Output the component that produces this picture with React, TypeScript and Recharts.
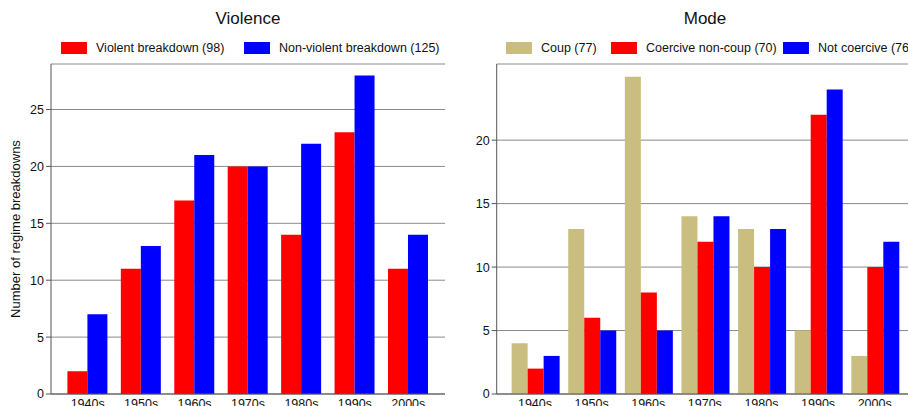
import React from "react";
import { BarChart, Bar, XAxis, YAxis, CartesianGrid } from "recharts";

const decades = ["1940s", "1950s", "1960s", "1970s", "1980s", "1990s", "2000s"];
const violent = [2, 11, 17, 20, 14, 23, 11];
const nonViolent = [7, 13, 21, 20, 22, 28, 14];
const coup = [4, 13, 25, 14, 13, 5, 3];
const coerciveNonCoup = [2, 6, 8, 12, 10, 22, 10];
const notCoercive = [3, 5, 5, 14, 13, 24, 12];
const leftTicks = [0, 5, 10, 15, 20, 25];
const rightTicks = [0, 5, 10, 15, 20];

const violenceSeries = [
  { key: "violent", name: "Violent breakdown (98)", color: "#ff0000", values: violent },
  { key: "nonViolent", name: "Non-violent breakdown (125)", color: "#0000ff", values: nonViolent },
];
const modeSeries = [
  { key: "coup", name: "Coup (77)", color: "#c9be80", values: coup },
  { key: "coercive", name: "Coercive non-coup (70)", color: "#ff0000", values: coerciveNonCoup },
  { key: "notCoercive", name: "Not coercive (76)", color: "#0000ff", values: notCoercive },
];
const violenceLegendX = [61, 244];
const modeLegendX = [506, 611, 783];

const buildRows = (series: typeof violenceSeries) =>
  decades.map((d, i) => {
    const row: any = { decade: d };
    series.forEach((s) => (row[s.key] = s.values[i]));
    return row;
  });

const violenceData = buildRows(violenceSeries);
const modeData = buildRows(modeSeries);

const FONT = "'Liberation Sans', Arial, Helvetica, sans-serif";
const GRID = "#8a8a8a";
const FRAME = "#555";

function LegendRow({ series, xs }: { series: typeof violenceSeries; xs: number[] }) {
  return (
    <>
      {series.map((s, i) => (
        <div
          key={s.key}
          style={{
            position: "absolute",
            left: xs[i],
            top: 41,
            display: "flex",
            alignItems: "center",
            whiteSpace: "nowrap",
            fontFamily: FONT,
            fontSize: 12.5,
            color: "#111",
            width: 300,
          }}
        >
          <div style={{ width: 26, height: 12, background: s.color, marginRight: 9, flexShrink: 0 }} />
          <span style={{ whiteSpace: "nowrap" }}>{s.name}</span>
        </div>
      ))}
    </>
  );
}

function Title({ text, cx }: { text: string; cx: number }) {
  return (
    <div
      style={{
        position: "absolute",
        left: cx - 100,
        width: 200,
        top: 9,
        textAlign: "center",
        fontFamily: FONT,
        fontSize: 17,
        color: "#111",
      }}
    >
      {text}
    </div>
  );
}

const tickStyle = { fontSize: 12.5, fill: "#111", fontFamily: FONT };

export default function App() {
  return (
    <div style={{ position: "relative", width: 908, height: 406, overflow: "hidden", background: "#fff" }}>
      <style>{"body{margin:0;overflow:hidden;}"}</style>
      <Title text="Violence" cx={248} />
      <Title text="Mode" cx={705} />
      <LegendRow series={violenceSeries} xs={violenceLegendX} />
      <LegendRow series={modeSeries} xs={modeLegendX} />

      <div style={{ position: "absolute", left: 0, top: 0 }}>
        <BarChart
          width={460}
          height={420}
          data={violenceData}
          margin={{ top: 64, right: 15, left: 0, bottom: 6 }}
          barCategoryGap="12%"
          barGap={0}
        >
          <CartesianGrid vertical={false} stroke={GRID} />
          <XAxis
            dataKey="decade"
            padding={{ left: 10, right: 10 }}
            tickSize={0}
            tickMargin={5}
            height={20}
            axisLine={{ stroke: FRAME }}
            tick={tickStyle}
            interval={0}
          />
          <XAxis xAxisId="top" orientation="top" height={0} tick={false} tickLine={false} axisLine={{ stroke: FRAME }} />
          <YAxis
            width={51}
            domain={[0, 29]}
            ticks={leftTicks}
            tickSize={5}
            tickMargin={2}
            axisLine={{ stroke: FRAME }}
            tickLine={{ stroke: FRAME }}
            tick={tickStyle}
            label={{
              value: "Number of regime breakdowns",
              angle: -90,
              position: "insideLeft",
              dx: 10,
              style: { textAnchor: "middle", fontSize: 13, fill: "#111", fontFamily: FONT },
            }}
          />
          <YAxis yAxisId="right" orientation="right" width={0} tick={false} tickLine={false} axisLine={{ stroke: FRAME }} />
          {violenceSeries.map((s) => (
            <Bar key={s.key} dataKey={s.key} name={s.name} fill={s.color} isAnimationActive={false} />
          ))}
        </BarChart>
      </div>

      <div style={{ position: "absolute", left: 450, top: 0 }}>
        <BarChart
          width={465}
          height={420}
          data={modeData}
          margin={{ top: 64, right: 2, left: 0, bottom: 6 }}
          barCategoryGap="8.7%"
          barGap={0}
        >
          <CartesianGrid vertical={false} stroke={GRID} />
          <XAxis
            dataKey="decade"
            padding={{ left: 10, right: 10 }}
            tickSize={0}
            tickMargin={5}
            height={20}
            axisLine={{ stroke: FRAME }}
            tick={tickStyle}
            interval={0}
          />
          <XAxis xAxisId="top" orientation="top" height={0} tick={false} tickLine={false} axisLine={{ stroke: FRAME }} />
          <YAxis
            width={46.7}
            domain={[0, 26]}
            ticks={rightTicks}
            tickSize={5}
            tickMargin={2}
            axisLine={{ stroke: FRAME }}
            tickLine={{ stroke: FRAME }}
            tick={tickStyle}
          />
          <YAxis yAxisId="right" orientation="right" width={0} tick={false} tickLine={false} axisLine={{ stroke: FRAME }} />
          {modeSeries.map((s) => (
            <Bar key={s.key} dataKey={s.key} name={s.name} fill={s.color} isAnimationActive={false} />
          ))}
        </BarChart>
      </div>
    </div>
  );
}
